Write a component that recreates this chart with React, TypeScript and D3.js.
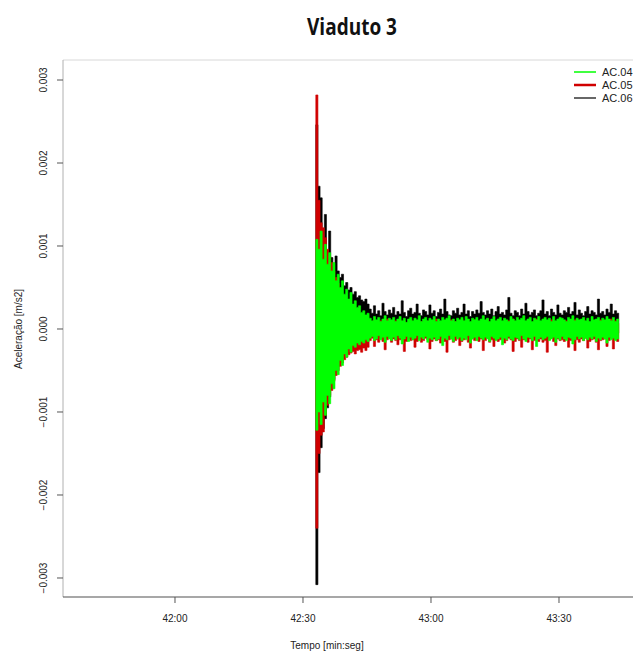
import React from 'react';
import * as d3 from 'd3';

const W = 633;
const H = 654;

// Each channel is stored as its max / min per 0.5 s bin (seconds since the hour)
const startSec = 2553.0; // 42:33.0
const binSec = 0.5;

// Accelerations in units of 1e-5 m/s2
const ac04Max = [
  108, 96, 118, 84, 102, 78, 92, 70, 80, 58,
  66, 50, 58, 42, 48, 36, 44, 30, 34, 26,
  28, 20, 22, 17, 19,
  13, 10, 15, 11, 14, 9, 12, 16, 10, 13,
  11, 14, 9, 12, 15, 10, 13, 8, 12, 14,
  10, 13, 11, 16, 9, 12, 14, 10, 13, 11,
  15, 9, 12, 10, 14, 11, 13, 16, 10, 12,
  9, 13, 11, 14, 10, 15, 12, 9, 13, 11,
  14, 10, 12, 16, 11, 13, 9, 12, 15, 10,
  12, 14, 10, 13, 11, 9, 15, 12, 10, 14,
  11, 13, 16, 10, 12, 14, 9, 13, 11, 15,
  10, 12, 14, 11, 13, 9, 15, 10, 12, 14,
  13, 11, 9, 14, 12, 16, 10, 13, 11, 12,
  14, 10, 13, 9, 15, 11, 12, 14, 10, 13,
  11, 15, 12, 10, 14, 9, 12,
];
const ac04Min = [
  -122, -100, -115, -88, -104, -80, -90, -66, -72, -50,
  -55, -38, -44, -30, -34, -24, -28, -20, -22, -17,
  -19, -15, -17, -13, -15,
  -11, -9, -14, -12, -8, -13, -10, -16, -9, -12,
  -14, -10, -13, -8, -11, -18, -12, -9, -15, -10,
  -13, -11, -8, -14, -10, -12, -9, -16, -11, -13,
  -10, -14, -12, -9, -20, -11, -13, -8, -12, -15,
  -9, -12, -10, -14, -11, -13, -8, -17, -12, -10,
  -14, -9, -11, -13, -10, -12, -15, -9, -11, -14,
  -12, -10, -19, -11, -13, -9, -12, -14, -10, -11,
  -13, -8, -12, -15, -10, -11, -14, -9, -21, -12,
  -10, -13, -11, -9, -14, -12, -10, -16, -11, -13,
  -9, -12, -14, -10, -11, -18, -13, -9, -12, -10,
  -14, -11, -13, -10, -12, -9, -15, -11, -13, -10,
  -12, -17, -10, -13, -11, -14, -12,
];

const ac05Max = [
  282, 155, 128, 122, 110, 96, 88, 80, 70, 62,
  55, 48, 42, 38, 33, 29, 26, 23, 20, 18,
  16, 15, 14, 13, 12,
  9, 6, 11, 5, 8, 10, 4, 7, 12, 6,
  8, 5, 10, 7, 11, 4, 9, 6, 8, 12,
  5, 7, 10, 6, 9, 4, 11, 8, 6, 10,
  7, 12, 5, 9, 6, 8, 10, 4, 11, 7,
  9, 6, 8, 12, 5, 10, 7, 4, 9, 11,
  6, 8, 5, 10, 7, 12, 4, 9, 6, 8,
  11, 5, 7, 9, 4, 10, 6, 12, 8, 5,
  7, 10, 6, 4, 11, 8, 5, 9, 12, 6,
  8, 4, 10, 7, 5, 11, 9, 6, 8, 12,
  5, 7, 10, 6, 9, 4, 11, 8, 5, 7,
  12, 6, 9, 5, 8, 10, 4, 7, 11, 6,
  9, 5, 8, 12, 6, 10, 7,
];
const ac05Min = [
  -240, -150, -128, -124, -104, -92, -80, -74, -63, -56,
  -50, -45, -41, -37, -34, -31, -29, -27, -30, -26,
  -25, -28, -23, -26, -22,
  -14, -11, -21, -13, -16, -12, -15, -25, -13, -11,
  -16, -12, -14, -19, -13, -11, -27, -15, -12, -14,
  -13, -22, -15, -12, -16, -14, -11, -13, -24, -15,
  -12, -14, -13, -17, -11, -15, -28, -13, -12, -16,
  -14, -12, -20, -15, -13, -11, -16, -23, -12, -14,
  -13, -15, -12, -26, -14, -11, -16, -13, -21, -12,
  -15, -13, -12, -17, -14, -11, -13, -27, -15, -12,
  -14, -22, -13, -11, -16, -12, -25, -14, -13, -15,
  -12, -16, -14, -28, -13, -11, -15, -20, -12, -14,
  -13, -15, -12, -22, -14, -11, -26, -13, -16, -12,
  -14, -11, -23, -15, -13, -12, -16, -25, -14, -13,
  -12, -21, -14, -11, -24, -13, -15,
];

const ac06Max = [
  246, 172, 158, 100, 138, 92, 118, 86, 76, 88,
  70, 62, 66, 52, 56, 47, 50, 42, 45, 38,
  40, 35, 33, 36, 30,
  24, 19, 28, 18, 22, 16, 31, 21, 17, 23,
  19, 26, 17, 21, 18, 34, 20, 15, 22, 25,
  18, 20, 30, 19, 16, 23, 21, 17, 29, 19,
  22, 15, 20, 24, 18, 36, 21, 17, 16, 22,
  19, 25, 17, 20, 30, 18, 22, 15, 21, 18,
  23, 19, 33, 20, 17, 22, 18, 24, 16, 21,
  27, 18, 20, 17, 23, 38, 19, 16, 22, 20,
  16, 24, 18, 31, 21, 17, 20, 23, 16, 19,
  22, 35, 18, 21, 16, 24, 20, 17, 29, 19,
  17, 22, 20, 26, 18, 21, 32, 17, 23, 19,
  16, 21, 27, 18, 22, 20, 17, 36, 19, 21,
  17, 24, 20, 30, 18, 22, 19,
];
const ac06Min = [
  -308, -173, -143, -120, -108, -95, -82, -72, -61, -52,
  -45, -38, -33, -28, -23, -19, -16, -13, -11, -9,
  -8, -7, -6, -5, -6,
  -4, -6, -3, -7, -5, -2, -8, -4, -6, -3,
  -5, -7, -2, -4, -6, -9, -3, -5, -4, -7,
  -2, -6, -5, -3, -8, -4, -6, -2, -5, -7,
  -3, -4, -6, -5, -2, -8, -4, -3, -7, -5,
  -6, -2, -4, -5, -9, -3, -6, -4, -2, -5,
  -7, -3, -5, -6, -4, -2, -8, -5, -3, -6,
  -4, -7, -2, -5, -6, -3, -4, -8, -5, -2,
  -6, -4, -3, -7, -5, -2, -6, -4, -8, -3,
  -5, -6, -2, -4, -7, -3, -5, -6, -4, -2,
  -8, -5, -3, -6, -4, -7, -2, -5, -3, -6,
  -4, -2, -7, -5, -3, -6, -8, -4, -5, -2,
  -6, -3, -5, -7, -4, -2, -5,
];

const yTicks = [-0.003, -0.002, -0.001, 0, 0.001, 0.002, 0.003];
const xTicks = [2520, 2550, 2580, 2610]; // 42:00 ... 43:30
const seriesNames = ['AC.04', 'AC.05', 'AC.06'];
const seriesColors = ['#00ff00', '#d00000', '#000000'];

const FONT = '"Liberation Sans", Arial, sans-serif';

// repeat the last bin value so the final step keeps its width
const closeBins = (a: number[]) => a.concat([a[a.length - 1]]);

export default function App() {
  const left = 63;
  const right = 648;
  const top = 60;
  const bottom = 597;

  const x = d3.scaleLinear().domain([2493.75, 2630.86]).range([left, right]);
  const y = d3.scaleLinear().domain([-0.003229, 0.003241]).range([bottom, top]);

  const band = (mx: number[], mn: number[]) => {
    const hi = closeBins(mx);
    const lo = closeBins(mn);
    return (
      d3
        .area<number>()
        .curve(d3.curveStepAfter)
        .x((_, i) => x(startSec + i * binSec))
        .y0((_, i) => y(lo[i] * 1e-5))
        .y1((v) => y(v * 1e-5))(hi) || ''
    );
  };

  const fmtY = (v: number) => d3.format('.3f')(v).replace('-', '\u2212');
  const fmtX = (t: number) => {
    const m = Math.floor(t / 60);
    const s = t % 60;
    return `${m}:${String(s).padStart(2, '0')}`;
  };

  // drawing order: AC.06 underneath, then AC.05, AC.04 on top
  const drawn = [
    { max: ac06Max, min: ac06Min, color: seriesColors[2] },
    { max: ac05Max, min: ac05Min, color: seriesColors[1] },
    { max: ac04Max, min: ac04Min, color: seriesColors[0] },
  ];

  const legendY = [72, 85, 98];
  const legendWidths = [1.5, 2.5, 1.2];

  return (
    <svg
      width={W}
      height={H}
      style={{ position: 'absolute', left: 0, top: 0, background: '#fff' }}
      fontFamily={FONT}
    >
      <rect x={0} y={0} width={W} height={H} fill="#fff" />
      <text
        x={352}
        y={35}
        textAnchor="middle"
        fontFamily='"Open Sans", sans-serif'
        fontWeight={700}
        fontSize={23}
        textLength={90}
        lengthAdjust="spacingAndGlyphs"
        fill="#111"
      >
        Viaduto 3
      </text>

      <defs>
        <clipPath id="plotArea">
          <rect x={left} y={top} width={right - left} height={bottom - top} />
        </clipPath>
      </defs>

      {/* frame */}
      <line x1={left} x2={right} y1={top} y2={top} stroke="#d8d8d8" strokeWidth={1} />
      <line x1={left} x2={left} y1={top} y2={bottom} stroke="#b0b0b0" strokeWidth={1} />
      <line x1={left} x2={right} y1={bottom} y2={bottom} stroke="#505050" strokeWidth={1.2} />

      {/* signals */}
      <g clipPath="url(#plotArea)">
        {drawn.map((s, k) => (
          <path
            key={k}
            d={band(s.max, s.min)}
            fill={s.color}
            stroke={s.color}
            strokeWidth={0.6}
          />
        ))}
      </g>

      {/* y axis */}
      {yTicks.map((v) => (
        <g key={v}>
          <line x1={left - 6} x2={left} y1={y(v)} y2={y(v)} stroke="#555" />
          <text
            transform={`translate(46.5,${y(v)}) rotate(-90)`}
            textAnchor="middle"
            fontSize={10}
            fill="#222"
          >
            {fmtY(v)}
          </text>
        </g>
      ))}
      <text
        transform={`translate(22,${329}) rotate(-90)`}
        textAnchor="middle"
        fontSize={10}
        fill="#222"
      >
        Aceleração [m/s2]
      </text>

      {/* x axis */}
      {xTicks.map((t) => (
        <g key={t}>
          <line x1={x(t)} x2={x(t)} y1={bottom} y2={bottom + 6} stroke="#555" />
          <text x={x(t)} y={622} textAnchor="middle" fontSize={10} fill="#222">
            {fmtX(t)}
          </text>
        </g>
      ))}
      <text x={327} y={649} textAnchor="middle" fontSize={10} fill="#222">
        Tempo [min:seg]
      </text>

      {/* legend */}
      {seriesNames.map((name, i) => (
        <g key={name}>
          <line
            x1={574}
            x2={596}
            y1={legendY[i]}
            y2={legendY[i]}
            stroke={seriesColors[i]}
            strokeWidth={legendWidths[i]}
          />
          <text x={602} y={legendY[i] + 4} fontSize={11} fill="#222">
            {name}
          </text>
        </g>
      ))}
    </svg>
  );
}
